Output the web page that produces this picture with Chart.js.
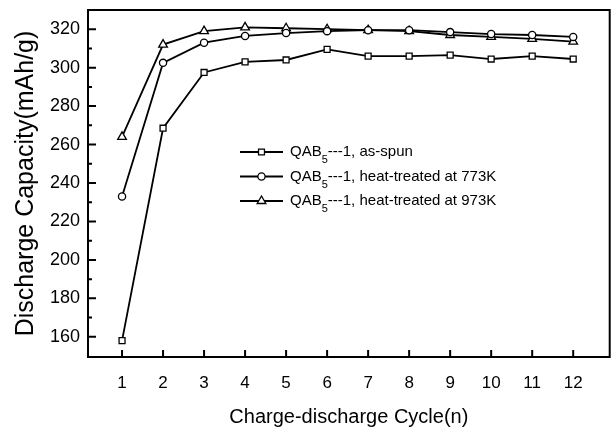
<!DOCTYPE html>
<html>
<head>
<meta charset="utf-8">
<script src="https://cdn.jsdelivr.net/npm/chart.js@4/dist/chart.umd.min.js"></script>
<style>
  body { margin: 0; background: #fff; }
</style>
</head>
<body>
<canvas id="capacity" width="616" height="433"></canvas>

<script>
// values
const cycles = [1, 2, 3, 4, 5, 6, 7, 8, 9, 10, 11, 12];
const asSpun = [158, 268.5, 297.5, 303, 304, 309.5, 306, 306, 306.5, 304.5, 306, 304.5];
const heat773 = [233, 302.5, 313, 316.5, 318, 319, 319.5, 319.5, 318.5, 317.5, 317, 316];
const heat973 = [264, 312, 319, 321, 320.5, 320, 319.5, 319, 317, 316, 315, 313.5];
const xTicks = [1, 2, 3, 4, 5, 6, 7, 8, 9, 10, 11, 12];
const yTicks = [160, 180, 200, 220, 240, 260, 280, 300, 320];
const yMinorTicks = [170, 190, 210, 230, 250, 270, 290, 310];
const legendLabels = [
    ['QAB', '5', '---1, as-spun'],
    ['QAB', '5', '---1, heat-treated at 773K'],
    ['QAB', '5', '---1, heat-treated at 973K']
];
const markers = ['rect', 'circle', 'triangle'];
const markerSizes = [4.2, 3.6, 5];

const FONT = '"Liberation Sans", Arial, sans-serif';

function toPoints(ys) {
    return cycles.map((c, i) => ({ x: c, y: ys[i] }));
}

function drawMarker(ctx, style, x, y, r) {
    ctx.beginPath();
    if (style === 'rect') {
        const s = r * Math.SQRT1_2;
        ctx.rect(x - s, y - s, 2 * s, 2 * s);
    } else if (style === 'circle') {
        ctx.arc(x, y, r, 0, Math.PI * 2);
    } else {
        ctx.moveTo(x, y - r);
        ctx.lineTo(x + r * 0.866, y + r * 0.5);
        ctx.lineTo(x - r * 0.866, y + r * 0.5);
        ctx.closePath();
    }
    ctx.fillStyle = '#fff';
    ctx.fill();
    ctx.stroke();
}

const framePlugin = {
    id: 'frame',
    afterDraw(chart) {
        const ctx = chart.ctx;
        const a = chart.chartArea;
        const xs = chart.scales.x, ys = chart.scales.y;
        ctx.save();
        ctx.strokeStyle = '#000';
        ctx.lineWidth = 2;
        ctx.strokeRect(a.left, a.top, a.right - a.left, a.bottom - a.top);

        // inward ticks
        ctx.beginPath();
        yTicks.forEach(v => {
            const p = ys.getPixelForValue(v);
            ctx.moveTo(a.left, p); ctx.lineTo(a.left + 8, p);
        });
        yMinorTicks.forEach(v => {
            const p = ys.getPixelForValue(v);
            ctx.moveTo(a.left, p); ctx.lineTo(a.left + 4, p);
        });
        xTicks.forEach(v => {
            const p = xs.getPixelForValue(v);
            ctx.moveTo(p, a.bottom); ctx.lineTo(p, a.bottom - 7);
        });
        ctx.stroke();

        // legend with subscript
        ctx.textBaseline = 'middle';
        legendLabels.forEach((lab, i) => {
            const y = a.top + 142 + i * 24.5;
            const x0 = a.left + 152;
            ctx.lineWidth = 1.8;
            ctx.beginPath();
            ctx.moveTo(x0, y); ctx.lineTo(x0 + 43, y);
            ctx.stroke();
            ctx.lineWidth = 1.3;
            drawMarker(ctx, markers[i], x0 + 21.5, y, markerSizes[i]);
            ctx.fillStyle = '#000';
            let tx = x0 + 50;
            ctx.font = '15px ' + FONT;
            ctx.fillText(lab[0], tx, y);
            tx += ctx.measureText(lab[0]).width;
            ctx.font = '11px ' + FONT;
            ctx.fillText(lab[1], tx, y + 8);
            tx += ctx.measureText(lab[1]).width;
            ctx.font = '15px ' + FONT;
            ctx.fillText(lab[2], tx, y);
        });
        ctx.restore();
    }
};

const seriesStyle = (data, style, r) => ({
    data: toPoints(data),
    borderColor: '#000',
    borderWidth: 1.8,
    pointStyle: style,
    pointRadius: r,
    pointBorderWidth: 1.3,
    pointBackgroundColor: '#fff',
    pointBorderColor: '#000',
    tension: 0,
    fill: false
});

new Chart(document.getElementById('capacity').getContext('2d'), {
    type: 'line',
    data: {
        datasets: [
            seriesStyle(asSpun, markers[0], markerSizes[0]),
            seriesStyle(heat773, markers[1], markerSizes[1]),
            seriesStyle(heat973, markers[2], markerSizes[2])
        ]
    },
    options: {
        responsive: false,
        animation: false,
        layout: { padding: { top: 10, right: 4, left: 0, bottom: 0 } },
        plugins: { legend: { display: false }, tooltip: { enabled: false } },
        scales: {
            x: {
                type: 'linear',
                min: 0.17,
                max: 12.89,
                afterBuildTicks: s => { s.ticks = xTicks.map(v => ({ value: v })); },
                afterFit: s => { s.height = 76; s.paddingLeft = 0; s.paddingRight = 0; },
                grid: { display: false, drawTicks: false },
                border: { display: false },
                ticks: { color: '#000', font: { family: FONT, size: 17 }, padding: 16, maxRotation: 0 },
                title: {
                    display: true, text: 'Charge-discharge Cycle(n)', color: '#000',
                    font: { family: FONT, size: 20 }, padding: { bottom: 4, top: 0 }
                }
            },
            y: {
                min: 149.5,
                max: 330,
                afterBuildTicks: s => { s.ticks = yTicks.map(v => ({ value: v })); },
                afterFit: s => { s.width = 88; s.paddingTop = 0; s.paddingBottom = 0; },
                grid: { display: false, drawTicks: false },
                border: { display: false },
                ticks: { color: '#000', font: { family: FONT, size: 18 }, padding: 8 },
                title: {
                    display: true, text: 'Discharge Capacity(mAh/g)', color: '#000',
                    font: { family: FONT, size: 25 }, padding: { top: 11, bottom: 0 }
                }
            }
        }
    },
    plugins: [framePlugin]
});
</script>
</body>
</html>
